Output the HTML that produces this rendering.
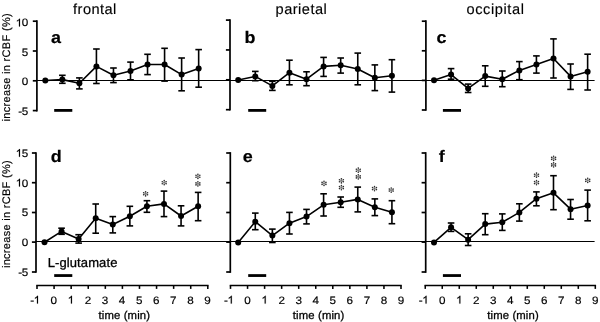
<!DOCTYPE html>
<html><head><meta charset="utf-8"><title>rCBF</title>
<style>
html,body{margin:0;padding:0;background:#fff;}
svg{display:block;font-family:"Liberation Sans", sans-serif;text-rendering:geometricPrecision;}
</style></head>
<body>
<svg width="600" height="322" viewBox="0 0 600 322">
<defs>
<filter id="soft" x="0" y="0" width="600" height="322" filterUnits="userSpaceOnUse"><feGaussianBlur stdDeviation="0.45"/></filter>
</defs>
<rect x="0" y="0" width="600" height="322" fill="#fff"/>
<g filter="url(#soft)">
<line x1="36.80" y1="80.45" x2="594.60" y2="80.45" stroke="#000" stroke-width="1.05" stroke-linecap="butt"/>
<line x1="36.00" y1="241.50" x2="594.60" y2="241.50" stroke="#000" stroke-width="1.05" stroke-linecap="butt"/>
<line x1="36.90" y1="20.35" x2="36.90" y2="111.45" stroke="#000" stroke-width="1.7" stroke-linecap="butt"/>
<line x1="32.80" y1="21.20" x2="36.90" y2="21.20" stroke="#000" stroke-width="1.7" stroke-linecap="butt"/>
<line x1="32.80" y1="51.00" x2="36.90" y2="51.00" stroke="#000" stroke-width="1.7" stroke-linecap="butt"/>
<line x1="32.80" y1="80.80" x2="36.90" y2="80.80" stroke="#000" stroke-width="1.7" stroke-linecap="butt"/>
<line x1="32.80" y1="110.60" x2="36.90" y2="110.60" stroke="#000" stroke-width="1.7" stroke-linecap="butt"/>
<line x1="36.00" y1="152.15" x2="36.00" y2="272.85" stroke="#000" stroke-width="1.7" stroke-linecap="butt"/>
<line x1="31.90" y1="153.00" x2="36.00" y2="153.00" stroke="#000" stroke-width="1.7" stroke-linecap="butt"/>
<line x1="31.90" y1="182.70" x2="36.00" y2="182.70" stroke="#000" stroke-width="1.7" stroke-linecap="butt"/>
<line x1="31.90" y1="212.50" x2="36.00" y2="212.50" stroke="#000" stroke-width="1.7" stroke-linecap="butt"/>
<line x1="31.90" y1="242.10" x2="36.00" y2="242.10" stroke="#000" stroke-width="1.7" stroke-linecap="butt"/>
<line x1="31.90" y1="272.00" x2="36.00" y2="272.00" stroke="#000" stroke-width="1.7" stroke-linecap="butt"/>
<line x1="230.00" y1="19.25" x2="230.00" y2="110.55" stroke="#000" stroke-width="1.7" stroke-linecap="butt"/>
<line x1="225.90" y1="20.10" x2="230.00" y2="20.10" stroke="#000" stroke-width="1.7" stroke-linecap="butt"/>
<line x1="225.90" y1="49.95" x2="230.00" y2="49.95" stroke="#000" stroke-width="1.7" stroke-linecap="butt"/>
<line x1="225.90" y1="79.80" x2="230.00" y2="79.80" stroke="#000" stroke-width="1.7" stroke-linecap="butt"/>
<line x1="225.90" y1="109.70" x2="230.00" y2="109.70" stroke="#000" stroke-width="1.7" stroke-linecap="butt"/>
<line x1="230.30" y1="152.15" x2="230.30" y2="272.85" stroke="#000" stroke-width="1.7" stroke-linecap="butt"/>
<line x1="226.20" y1="153.00" x2="230.30" y2="153.00" stroke="#000" stroke-width="1.7" stroke-linecap="butt"/>
<line x1="226.20" y1="182.70" x2="230.30" y2="182.70" stroke="#000" stroke-width="1.7" stroke-linecap="butt"/>
<line x1="226.20" y1="212.50" x2="230.30" y2="212.50" stroke="#000" stroke-width="1.7" stroke-linecap="butt"/>
<line x1="226.20" y1="242.10" x2="230.30" y2="242.10" stroke="#000" stroke-width="1.7" stroke-linecap="butt"/>
<line x1="226.20" y1="272.00" x2="230.30" y2="272.00" stroke="#000" stroke-width="1.7" stroke-linecap="butt"/>
<line x1="425.90" y1="20.35" x2="425.90" y2="110.85" stroke="#000" stroke-width="1.7" stroke-linecap="butt"/>
<line x1="421.80" y1="21.20" x2="425.90" y2="21.20" stroke="#000" stroke-width="1.7" stroke-linecap="butt"/>
<line x1="421.80" y1="50.80" x2="425.90" y2="50.80" stroke="#000" stroke-width="1.7" stroke-linecap="butt"/>
<line x1="421.80" y1="80.40" x2="425.90" y2="80.40" stroke="#000" stroke-width="1.7" stroke-linecap="butt"/>
<line x1="421.80" y1="110.00" x2="425.90" y2="110.00" stroke="#000" stroke-width="1.7" stroke-linecap="butt"/>
<line x1="425.70" y1="152.15" x2="425.70" y2="272.85" stroke="#000" stroke-width="1.7" stroke-linecap="butt"/>
<line x1="421.60" y1="153.00" x2="425.70" y2="153.00" stroke="#000" stroke-width="1.7" stroke-linecap="butt"/>
<line x1="421.60" y1="182.70" x2="425.70" y2="182.70" stroke="#000" stroke-width="1.7" stroke-linecap="butt"/>
<line x1="421.60" y1="212.50" x2="425.70" y2="212.50" stroke="#000" stroke-width="1.7" stroke-linecap="butt"/>
<line x1="421.60" y1="242.10" x2="425.70" y2="242.10" stroke="#000" stroke-width="1.7" stroke-linecap="butt"/>
<line x1="421.60" y1="272.00" x2="425.70" y2="272.00" stroke="#000" stroke-width="1.7" stroke-linecap="butt"/>
<path transform="translate(15.65 26.40) scale(0.005695 -0.005273)" d="M763 0H583V1147Q518 1085 412.5 1023T223 930V1104Q374 1175 487 1276T647 1472H763Z" fill="#000" stroke="#000" stroke-width="34.1"/>
<text transform="translate(24.90 26.40) scale(1.08 1)" x="0" y="0" text-anchor="middle" font-size="10.8" fill="#000" stroke="#000" stroke-width="0.18">0</text>
<text transform="translate(24.90 55.80) scale(1.08 1)" x="0" y="0" text-anchor="middle" font-size="10.8" fill="#000" stroke="#000" stroke-width="0.18">5</text>
<text transform="translate(24.90 85.40) scale(1.08 1)" x="0" y="0" text-anchor="middle" font-size="10.8" fill="#000" stroke="#000" stroke-width="0.18">0</text>
<text transform="translate(20.10 115.00) scale(1.08 1)" x="0" y="0" text-anchor="middle" font-size="10.8" fill="#000" stroke="#000" stroke-width="0.18">-</text>
<text transform="translate(24.90 115.00) scale(1.08 1)" x="0" y="0" text-anchor="middle" font-size="10.8" fill="#000" stroke="#000" stroke-width="0.18">5</text>
<path transform="translate(15.65 156.80) scale(0.005695 -0.005273)" d="M763 0H583V1147Q518 1085 412.5 1023T223 930V1104Q374 1175 487 1276T647 1472H763Z" fill="#000" stroke="#000" stroke-width="34.1"/>
<text transform="translate(24.90 156.80) scale(1.08 1)" x="0" y="0" text-anchor="middle" font-size="10.8" fill="#000" stroke="#000" stroke-width="0.18">5</text>
<path transform="translate(15.65 186.50) scale(0.005695 -0.005273)" d="M763 0H583V1147Q518 1085 412.5 1023T223 930V1104Q374 1175 487 1276T647 1472H763Z" fill="#000" stroke="#000" stroke-width="34.1"/>
<text transform="translate(24.90 186.50) scale(1.08 1)" x="0" y="0" text-anchor="middle" font-size="10.8" fill="#000" stroke="#000" stroke-width="0.18">0</text>
<text transform="translate(24.90 216.30) scale(1.08 1)" x="0" y="0" text-anchor="middle" font-size="10.8" fill="#000" stroke="#000" stroke-width="0.18">5</text>
<text transform="translate(24.90 245.90) scale(1.08 1)" x="0" y="0" text-anchor="middle" font-size="10.8" fill="#000" stroke="#000" stroke-width="0.18">0</text>
<text transform="translate(20.10 275.80) scale(1.08 1)" x="0" y="0" text-anchor="middle" font-size="10.8" fill="#000" stroke="#000" stroke-width="0.18">-</text>
<text transform="translate(24.90 275.80) scale(1.08 1)" x="0" y="0" text-anchor="middle" font-size="10.8" fill="#000" stroke="#000" stroke-width="0.18">5</text>
<line x1="36.23" y1="285.40" x2="208.57" y2="285.40" stroke="#000" stroke-width="1.55" stroke-linecap="butt"/>
<line x1="37.00" y1="285.40" x2="37.00" y2="288.90" stroke="#000" stroke-width="1.55" stroke-linecap="butt"/>
<text transform="translate(32.10 303.60) scale(1.08 1)" x="0" y="0" text-anchor="middle" font-size="10.8" fill="#000" stroke="#000" stroke-width="0.18">-</text>
<path transform="translate(33.66 303.60) scale(0.005695 -0.005273)" d="M763 0H583V1147Q518 1085 412.5 1023T223 930V1104Q374 1175 487 1276T647 1472H763Z" fill="#000" stroke="#000" stroke-width="34.1"/>
<line x1="54.08" y1="285.40" x2="54.08" y2="288.90" stroke="#000" stroke-width="1.55" stroke-linecap="butt"/>
<text transform="translate(53.78 303.60) scale(1.08 1)" x="0" y="0" text-anchor="middle" font-size="10.8" fill="#000" stroke="#000" stroke-width="0.18">0</text>
<line x1="71.16" y1="285.40" x2="71.16" y2="288.90" stroke="#000" stroke-width="1.55" stroke-linecap="butt"/>
<path transform="translate(67.62 303.60) scale(0.005695 -0.005273)" d="M763 0H583V1147Q518 1085 412.5 1023T223 930V1104Q374 1175 487 1276T647 1472H763Z" fill="#000" stroke="#000" stroke-width="34.1"/>
<line x1="88.24" y1="285.40" x2="88.24" y2="288.90" stroke="#000" stroke-width="1.55" stroke-linecap="butt"/>
<text transform="translate(87.94 303.60) scale(1.08 1)" x="0" y="0" text-anchor="middle" font-size="10.8" fill="#000" stroke="#000" stroke-width="0.18">2</text>
<line x1="105.32" y1="285.40" x2="105.32" y2="288.90" stroke="#000" stroke-width="1.55" stroke-linecap="butt"/>
<text transform="translate(105.02 303.60) scale(1.08 1)" x="0" y="0" text-anchor="middle" font-size="10.8" fill="#000" stroke="#000" stroke-width="0.18">3</text>
<line x1="122.40" y1="285.40" x2="122.40" y2="288.90" stroke="#000" stroke-width="1.55" stroke-linecap="butt"/>
<text transform="translate(122.10 303.60) scale(1.08 1)" x="0" y="0" text-anchor="middle" font-size="10.8" fill="#000" stroke="#000" stroke-width="0.18">4</text>
<line x1="139.48" y1="285.40" x2="139.48" y2="288.90" stroke="#000" stroke-width="1.55" stroke-linecap="butt"/>
<text transform="translate(139.18 303.60) scale(1.08 1)" x="0" y="0" text-anchor="middle" font-size="10.8" fill="#000" stroke="#000" stroke-width="0.18">5</text>
<line x1="156.56" y1="285.40" x2="156.56" y2="288.90" stroke="#000" stroke-width="1.55" stroke-linecap="butt"/>
<text transform="translate(156.26 303.60) scale(1.08 1)" x="0" y="0" text-anchor="middle" font-size="10.8" fill="#000" stroke="#000" stroke-width="0.18">6</text>
<line x1="173.64" y1="285.40" x2="173.64" y2="288.90" stroke="#000" stroke-width="1.55" stroke-linecap="butt"/>
<text transform="translate(173.34 303.60) scale(1.08 1)" x="0" y="0" text-anchor="middle" font-size="10.8" fill="#000" stroke="#000" stroke-width="0.18">7</text>
<line x1="190.72" y1="285.40" x2="190.72" y2="288.90" stroke="#000" stroke-width="1.55" stroke-linecap="butt"/>
<text transform="translate(190.42 303.60) scale(1.08 1)" x="0" y="0" text-anchor="middle" font-size="10.8" fill="#000" stroke="#000" stroke-width="0.18">8</text>
<line x1="207.80" y1="285.40" x2="207.80" y2="288.90" stroke="#000" stroke-width="1.55" stroke-linecap="butt"/>
<text transform="translate(207.50 303.60) scale(1.08 1)" x="0" y="0" text-anchor="middle" font-size="10.8" fill="#000" stroke="#000" stroke-width="0.18">9</text>
<text x="98.50" y="319.20" font-size="11.3" text-anchor="start" font-weight="normal" fill="#000" stroke="#000" stroke-width="0.3" textLength="51.5" lengthAdjust="spacing">time (min)</text>
<line x1="229.72" y1="285.40" x2="401.77" y2="285.40" stroke="#000" stroke-width="1.55" stroke-linecap="butt"/>
<line x1="230.50" y1="285.40" x2="230.50" y2="288.90" stroke="#000" stroke-width="1.55" stroke-linecap="butt"/>
<text transform="translate(225.90 303.60) scale(1.08 1)" x="0" y="0" text-anchor="middle" font-size="10.8" fill="#000" stroke="#000" stroke-width="0.18">-</text>
<path transform="translate(227.46 303.60) scale(0.005695 -0.005273)" d="M763 0H583V1147Q518 1085 412.5 1023T223 930V1104Q374 1175 487 1276T647 1472H763Z" fill="#000" stroke="#000" stroke-width="34.1"/>
<line x1="247.55" y1="285.40" x2="247.55" y2="288.90" stroke="#000" stroke-width="1.55" stroke-linecap="butt"/>
<text transform="translate(247.55 303.60) scale(1.08 1)" x="0" y="0" text-anchor="middle" font-size="10.8" fill="#000" stroke="#000" stroke-width="0.18">0</text>
<line x1="264.60" y1="285.40" x2="264.60" y2="288.90" stroke="#000" stroke-width="1.55" stroke-linecap="butt"/>
<path transform="translate(261.36 303.60) scale(0.005695 -0.005273)" d="M763 0H583V1147Q518 1085 412.5 1023T223 930V1104Q374 1175 487 1276T647 1472H763Z" fill="#000" stroke="#000" stroke-width="34.1"/>
<line x1="281.65" y1="285.40" x2="281.65" y2="288.90" stroke="#000" stroke-width="1.55" stroke-linecap="butt"/>
<text transform="translate(281.65 303.60) scale(1.08 1)" x="0" y="0" text-anchor="middle" font-size="10.8" fill="#000" stroke="#000" stroke-width="0.18">2</text>
<line x1="298.70" y1="285.40" x2="298.70" y2="288.90" stroke="#000" stroke-width="1.55" stroke-linecap="butt"/>
<text transform="translate(298.70 303.60) scale(1.08 1)" x="0" y="0" text-anchor="middle" font-size="10.8" fill="#000" stroke="#000" stroke-width="0.18">3</text>
<line x1="315.75" y1="285.40" x2="315.75" y2="288.90" stroke="#000" stroke-width="1.55" stroke-linecap="butt"/>
<text transform="translate(315.75 303.60) scale(1.08 1)" x="0" y="0" text-anchor="middle" font-size="10.8" fill="#000" stroke="#000" stroke-width="0.18">4</text>
<line x1="332.80" y1="285.40" x2="332.80" y2="288.90" stroke="#000" stroke-width="1.55" stroke-linecap="butt"/>
<text transform="translate(332.80 303.60) scale(1.08 1)" x="0" y="0" text-anchor="middle" font-size="10.8" fill="#000" stroke="#000" stroke-width="0.18">5</text>
<line x1="349.85" y1="285.40" x2="349.85" y2="288.90" stroke="#000" stroke-width="1.55" stroke-linecap="butt"/>
<text transform="translate(349.85 303.60) scale(1.08 1)" x="0" y="0" text-anchor="middle" font-size="10.8" fill="#000" stroke="#000" stroke-width="0.18">6</text>
<line x1="366.90" y1="285.40" x2="366.90" y2="288.90" stroke="#000" stroke-width="1.55" stroke-linecap="butt"/>
<text transform="translate(366.90 303.60) scale(1.08 1)" x="0" y="0" text-anchor="middle" font-size="10.8" fill="#000" stroke="#000" stroke-width="0.18">7</text>
<line x1="383.95" y1="285.40" x2="383.95" y2="288.90" stroke="#000" stroke-width="1.55" stroke-linecap="butt"/>
<text transform="translate(383.95 303.60) scale(1.08 1)" x="0" y="0" text-anchor="middle" font-size="10.8" fill="#000" stroke="#000" stroke-width="0.18">8</text>
<line x1="401.00" y1="285.40" x2="401.00" y2="288.90" stroke="#000" stroke-width="1.55" stroke-linecap="butt"/>
<text transform="translate(401.00 303.60) scale(1.08 1)" x="0" y="0" text-anchor="middle" font-size="10.8" fill="#000" stroke="#000" stroke-width="0.18">9</text>
<text x="292.80" y="319.20" font-size="11.3" text-anchor="start" font-weight="normal" fill="#000" stroke="#000" stroke-width="0.3" textLength="51.5" lengthAdjust="spacing">time (min)</text>
<line x1="424.48" y1="285.40" x2="596.07" y2="285.40" stroke="#000" stroke-width="1.55" stroke-linecap="butt"/>
<line x1="425.25" y1="285.40" x2="425.25" y2="288.90" stroke="#000" stroke-width="1.55" stroke-linecap="butt"/>
<text transform="translate(420.65 303.60) scale(1.08 1)" x="0" y="0" text-anchor="middle" font-size="10.8" fill="#000" stroke="#000" stroke-width="0.18">-</text>
<path transform="translate(422.21 303.60) scale(0.005695 -0.005273)" d="M763 0H583V1147Q518 1085 412.5 1023T223 930V1104Q374 1175 487 1276T647 1472H763Z" fill="#000" stroke="#000" stroke-width="34.1"/>
<line x1="442.25" y1="285.40" x2="442.25" y2="288.90" stroke="#000" stroke-width="1.55" stroke-linecap="butt"/>
<text transform="translate(442.25 303.60) scale(1.08 1)" x="0" y="0" text-anchor="middle" font-size="10.8" fill="#000" stroke="#000" stroke-width="0.18">0</text>
<line x1="459.26" y1="285.40" x2="459.26" y2="288.90" stroke="#000" stroke-width="1.55" stroke-linecap="butt"/>
<path transform="translate(456.02 303.60) scale(0.005695 -0.005273)" d="M763 0H583V1147Q518 1085 412.5 1023T223 930V1104Q374 1175 487 1276T647 1472H763Z" fill="#000" stroke="#000" stroke-width="34.1"/>
<line x1="476.26" y1="285.40" x2="476.26" y2="288.90" stroke="#000" stroke-width="1.55" stroke-linecap="butt"/>
<text transform="translate(476.26 303.60) scale(1.08 1)" x="0" y="0" text-anchor="middle" font-size="10.8" fill="#000" stroke="#000" stroke-width="0.18">2</text>
<line x1="493.27" y1="285.40" x2="493.27" y2="288.90" stroke="#000" stroke-width="1.55" stroke-linecap="butt"/>
<text transform="translate(493.27 303.60) scale(1.08 1)" x="0" y="0" text-anchor="middle" font-size="10.8" fill="#000" stroke="#000" stroke-width="0.18">3</text>
<line x1="510.27" y1="285.40" x2="510.27" y2="288.90" stroke="#000" stroke-width="1.55" stroke-linecap="butt"/>
<text transform="translate(510.27 303.60) scale(1.08 1)" x="0" y="0" text-anchor="middle" font-size="10.8" fill="#000" stroke="#000" stroke-width="0.18">4</text>
<line x1="527.28" y1="285.40" x2="527.28" y2="288.90" stroke="#000" stroke-width="1.55" stroke-linecap="butt"/>
<text transform="translate(527.28 303.60) scale(1.08 1)" x="0" y="0" text-anchor="middle" font-size="10.8" fill="#000" stroke="#000" stroke-width="0.18">5</text>
<line x1="544.28" y1="285.40" x2="544.28" y2="288.90" stroke="#000" stroke-width="1.55" stroke-linecap="butt"/>
<text transform="translate(544.28 303.60) scale(1.08 1)" x="0" y="0" text-anchor="middle" font-size="10.8" fill="#000" stroke="#000" stroke-width="0.18">6</text>
<line x1="561.29" y1="285.40" x2="561.29" y2="288.90" stroke="#000" stroke-width="1.55" stroke-linecap="butt"/>
<text transform="translate(561.29 303.60) scale(1.08 1)" x="0" y="0" text-anchor="middle" font-size="10.8" fill="#000" stroke="#000" stroke-width="0.18">7</text>
<line x1="578.29" y1="285.40" x2="578.29" y2="288.90" stroke="#000" stroke-width="1.55" stroke-linecap="butt"/>
<text transform="translate(578.29 303.60) scale(1.08 1)" x="0" y="0" text-anchor="middle" font-size="10.8" fill="#000" stroke="#000" stroke-width="0.18">8</text>
<line x1="595.30" y1="285.40" x2="595.30" y2="288.90" stroke="#000" stroke-width="1.55" stroke-linecap="butt"/>
<text transform="translate(595.30 303.60) scale(1.08 1)" x="0" y="0" text-anchor="middle" font-size="10.8" fill="#000" stroke="#000" stroke-width="0.18">9</text>
<text x="487.20" y="319.20" font-size="11.3" text-anchor="start" font-weight="normal" fill="#000" stroke="#000" stroke-width="0.3" textLength="51.5" lengthAdjust="spacing">time (min)</text>
<line x1="54.20" y1="110.40" x2="72.30" y2="110.40" stroke="#000" stroke-width="2.8" stroke-linecap="butt"/>
<line x1="54.20" y1="275.55" x2="72.30" y2="275.55" stroke="#000" stroke-width="2.8" stroke-linecap="butt"/>
<line x1="248.20" y1="110.40" x2="266.20" y2="110.40" stroke="#000" stroke-width="2.8" stroke-linecap="butt"/>
<line x1="248.20" y1="275.55" x2="266.20" y2="275.55" stroke="#000" stroke-width="2.8" stroke-linecap="butt"/>
<line x1="442.90" y1="110.40" x2="461.00" y2="110.40" stroke="#000" stroke-width="2.8" stroke-linecap="butt"/>
<line x1="442.90" y1="275.55" x2="461.00" y2="275.55" stroke="#000" stroke-width="2.8" stroke-linecap="butt"/>
<line x1="62.34" y1="75.30" x2="62.34" y2="83.30" stroke="#000" stroke-width="1.6" stroke-linecap="butt"/>
<line x1="59.04" y1="75.30" x2="65.64" y2="75.30" stroke="#000" stroke-width="1.6" stroke-linecap="butt"/>
<line x1="59.04" y1="83.30" x2="65.64" y2="83.30" stroke="#000" stroke-width="1.6" stroke-linecap="butt"/>
<line x1="79.38" y1="77.90" x2="79.38" y2="88.90" stroke="#000" stroke-width="1.6" stroke-linecap="butt"/>
<line x1="76.08" y1="77.90" x2="82.68" y2="77.90" stroke="#000" stroke-width="1.6" stroke-linecap="butt"/>
<line x1="76.08" y1="88.90" x2="82.68" y2="88.90" stroke="#000" stroke-width="1.6" stroke-linecap="butt"/>
<line x1="96.42" y1="49.00" x2="96.42" y2="83.50" stroke="#000" stroke-width="1.6" stroke-linecap="butt"/>
<line x1="93.12" y1="49.00" x2="99.72" y2="49.00" stroke="#000" stroke-width="1.6" stroke-linecap="butt"/>
<line x1="93.12" y1="83.50" x2="99.72" y2="83.50" stroke="#000" stroke-width="1.6" stroke-linecap="butt"/>
<line x1="113.46" y1="68.00" x2="113.46" y2="82.60" stroke="#000" stroke-width="1.6" stroke-linecap="butt"/>
<line x1="110.16" y1="68.00" x2="116.76" y2="68.00" stroke="#000" stroke-width="1.6" stroke-linecap="butt"/>
<line x1="110.16" y1="82.60" x2="116.76" y2="82.60" stroke="#000" stroke-width="1.6" stroke-linecap="butt"/>
<line x1="130.50" y1="62.10" x2="130.50" y2="79.80" stroke="#000" stroke-width="1.6" stroke-linecap="butt"/>
<line x1="127.20" y1="62.10" x2="133.80" y2="62.10" stroke="#000" stroke-width="1.6" stroke-linecap="butt"/>
<line x1="127.20" y1="79.80" x2="133.80" y2="79.80" stroke="#000" stroke-width="1.6" stroke-linecap="butt"/>
<line x1="147.54" y1="54.30" x2="147.54" y2="74.60" stroke="#000" stroke-width="1.6" stroke-linecap="butt"/>
<line x1="144.24" y1="54.30" x2="150.84" y2="54.30" stroke="#000" stroke-width="1.6" stroke-linecap="butt"/>
<line x1="144.24" y1="74.60" x2="150.84" y2="74.60" stroke="#000" stroke-width="1.6" stroke-linecap="butt"/>
<line x1="164.58" y1="48.30" x2="164.58" y2="81.10" stroke="#000" stroke-width="1.6" stroke-linecap="butt"/>
<line x1="161.28" y1="48.30" x2="167.88" y2="48.30" stroke="#000" stroke-width="1.6" stroke-linecap="butt"/>
<line x1="161.28" y1="81.10" x2="167.88" y2="81.10" stroke="#000" stroke-width="1.6" stroke-linecap="butt"/>
<line x1="181.62" y1="58.00" x2="181.62" y2="90.80" stroke="#000" stroke-width="1.6" stroke-linecap="butt"/>
<line x1="178.32" y1="58.00" x2="184.92" y2="58.00" stroke="#000" stroke-width="1.6" stroke-linecap="butt"/>
<line x1="178.32" y1="90.80" x2="184.92" y2="90.80" stroke="#000" stroke-width="1.6" stroke-linecap="butt"/>
<line x1="198.66" y1="49.60" x2="198.66" y2="87.20" stroke="#000" stroke-width="1.6" stroke-linecap="butt"/>
<line x1="195.36" y1="49.60" x2="201.96" y2="49.60" stroke="#000" stroke-width="1.6" stroke-linecap="butt"/>
<line x1="195.36" y1="87.20" x2="201.96" y2="87.20" stroke="#000" stroke-width="1.6" stroke-linecap="butt"/>
<polyline points="45.30,80.50 62.34,79.60 79.38,83.30 96.42,66.40 113.46,75.30 130.50,71.00 147.54,64.50 164.58,64.50 181.62,74.60 198.66,68.40" fill="none" stroke="#000" stroke-width="1.6" stroke-linejoin="round"/>
<circle cx="45.30" cy="80.50" r="3.0" fill="#000"/>
<circle cx="62.34" cy="79.60" r="3.0" fill="#000"/>
<circle cx="79.38" cy="83.30" r="3.0" fill="#000"/>
<circle cx="96.42" cy="66.40" r="3.0" fill="#000"/>
<circle cx="113.46" cy="75.30" r="3.0" fill="#000"/>
<circle cx="130.50" cy="71.00" r="3.0" fill="#000"/>
<circle cx="147.54" cy="64.50" r="3.0" fill="#000"/>
<circle cx="164.58" cy="64.50" r="3.0" fill="#000"/>
<circle cx="181.62" cy="74.60" r="3.0" fill="#000"/>
<circle cx="198.66" cy="68.40" r="3.0" fill="#000"/>
<line x1="255.28" y1="71.40" x2="255.28" y2="80.70" stroke="#000" stroke-width="1.6" stroke-linecap="butt"/>
<line x1="251.98" y1="71.40" x2="258.58" y2="71.40" stroke="#000" stroke-width="1.6" stroke-linecap="butt"/>
<line x1="251.98" y1="80.70" x2="258.58" y2="80.70" stroke="#000" stroke-width="1.6" stroke-linecap="butt"/>
<line x1="272.36" y1="81.30" x2="272.36" y2="90.40" stroke="#000" stroke-width="1.6" stroke-linecap="butt"/>
<line x1="269.06" y1="81.30" x2="275.66" y2="81.30" stroke="#000" stroke-width="1.6" stroke-linecap="butt"/>
<line x1="269.06" y1="90.40" x2="275.66" y2="90.40" stroke="#000" stroke-width="1.6" stroke-linecap="butt"/>
<line x1="289.44" y1="60.20" x2="289.44" y2="84.80" stroke="#000" stroke-width="1.6" stroke-linecap="butt"/>
<line x1="286.14" y1="60.20" x2="292.74" y2="60.20" stroke="#000" stroke-width="1.6" stroke-linecap="butt"/>
<line x1="286.14" y1="84.80" x2="292.74" y2="84.80" stroke="#000" stroke-width="1.6" stroke-linecap="butt"/>
<line x1="306.52" y1="71.80" x2="306.52" y2="85.70" stroke="#000" stroke-width="1.6" stroke-linecap="butt"/>
<line x1="303.22" y1="71.80" x2="309.82" y2="71.80" stroke="#000" stroke-width="1.6" stroke-linecap="butt"/>
<line x1="303.22" y1="85.70" x2="309.82" y2="85.70" stroke="#000" stroke-width="1.6" stroke-linecap="butt"/>
<line x1="323.60" y1="57.40" x2="323.60" y2="76.40" stroke="#000" stroke-width="1.6" stroke-linecap="butt"/>
<line x1="320.30" y1="57.40" x2="326.90" y2="57.40" stroke="#000" stroke-width="1.6" stroke-linecap="butt"/>
<line x1="320.30" y1="76.40" x2="326.90" y2="76.40" stroke="#000" stroke-width="1.6" stroke-linecap="butt"/>
<line x1="340.68" y1="58.00" x2="340.68" y2="73.10" stroke="#000" stroke-width="1.6" stroke-linecap="butt"/>
<line x1="337.38" y1="58.00" x2="343.98" y2="58.00" stroke="#000" stroke-width="1.6" stroke-linecap="butt"/>
<line x1="337.38" y1="73.10" x2="343.98" y2="73.10" stroke="#000" stroke-width="1.6" stroke-linecap="butt"/>
<line x1="357.76" y1="53.10" x2="357.76" y2="84.80" stroke="#000" stroke-width="1.6" stroke-linecap="butt"/>
<line x1="354.46" y1="53.10" x2="361.06" y2="53.10" stroke="#000" stroke-width="1.6" stroke-linecap="butt"/>
<line x1="354.46" y1="84.80" x2="361.06" y2="84.80" stroke="#000" stroke-width="1.6" stroke-linecap="butt"/>
<line x1="374.84" y1="64.90" x2="374.84" y2="90.60" stroke="#000" stroke-width="1.6" stroke-linecap="butt"/>
<line x1="371.54" y1="64.90" x2="378.14" y2="64.90" stroke="#000" stroke-width="1.6" stroke-linecap="butt"/>
<line x1="371.54" y1="90.60" x2="378.14" y2="90.60" stroke="#000" stroke-width="1.6" stroke-linecap="butt"/>
<line x1="391.92" y1="59.70" x2="391.92" y2="92.10" stroke="#000" stroke-width="1.6" stroke-linecap="butt"/>
<line x1="388.62" y1="59.70" x2="395.22" y2="59.70" stroke="#000" stroke-width="1.6" stroke-linecap="butt"/>
<line x1="388.62" y1="92.10" x2="395.22" y2="92.10" stroke="#000" stroke-width="1.6" stroke-linecap="butt"/>
<polyline points="238.20,80.00 255.28,76.40 272.36,85.90 289.44,72.70 306.52,79.20 323.60,66.40 340.68,65.30 357.76,69.00 374.84,77.70 391.92,75.70" fill="none" stroke="#000" stroke-width="1.6" stroke-linejoin="round"/>
<circle cx="238.20" cy="80.00" r="3.0" fill="#000"/>
<circle cx="255.28" cy="76.40" r="3.0" fill="#000"/>
<circle cx="272.36" cy="85.90" r="3.0" fill="#000"/>
<circle cx="289.44" cy="72.70" r="3.0" fill="#000"/>
<circle cx="306.52" cy="79.20" r="3.0" fill="#000"/>
<circle cx="323.60" cy="66.40" r="3.0" fill="#000"/>
<circle cx="340.68" cy="65.30" r="3.0" fill="#000"/>
<circle cx="357.76" cy="69.00" r="3.0" fill="#000"/>
<circle cx="374.84" cy="77.70" r="3.0" fill="#000"/>
<circle cx="391.92" cy="75.70" r="3.0" fill="#000"/>
<line x1="451.07" y1="68.60" x2="451.07" y2="79.20" stroke="#000" stroke-width="1.6" stroke-linecap="butt"/>
<line x1="447.77" y1="68.60" x2="454.37" y2="68.60" stroke="#000" stroke-width="1.6" stroke-linecap="butt"/>
<line x1="447.77" y1="79.20" x2="454.37" y2="79.20" stroke="#000" stroke-width="1.6" stroke-linecap="butt"/>
<line x1="468.14" y1="84.10" x2="468.14" y2="92.50" stroke="#000" stroke-width="1.6" stroke-linecap="butt"/>
<line x1="464.84" y1="84.10" x2="471.44" y2="84.10" stroke="#000" stroke-width="1.6" stroke-linecap="butt"/>
<line x1="464.84" y1="92.50" x2="471.44" y2="92.50" stroke="#000" stroke-width="1.6" stroke-linecap="butt"/>
<line x1="485.21" y1="65.80" x2="485.21" y2="86.30" stroke="#000" stroke-width="1.6" stroke-linecap="butt"/>
<line x1="481.91" y1="65.80" x2="488.51" y2="65.80" stroke="#000" stroke-width="1.6" stroke-linecap="butt"/>
<line x1="481.91" y1="86.30" x2="488.51" y2="86.30" stroke="#000" stroke-width="1.6" stroke-linecap="butt"/>
<line x1="502.28" y1="71.00" x2="502.28" y2="86.70" stroke="#000" stroke-width="1.6" stroke-linecap="butt"/>
<line x1="498.98" y1="71.00" x2="505.58" y2="71.00" stroke="#000" stroke-width="1.6" stroke-linecap="butt"/>
<line x1="498.98" y1="86.70" x2="505.58" y2="86.70" stroke="#000" stroke-width="1.6" stroke-linecap="butt"/>
<line x1="519.35" y1="61.60" x2="519.35" y2="79.70" stroke="#000" stroke-width="1.6" stroke-linecap="butt"/>
<line x1="516.05" y1="61.60" x2="522.65" y2="61.60" stroke="#000" stroke-width="1.6" stroke-linecap="butt"/>
<line x1="516.05" y1="79.70" x2="522.65" y2="79.70" stroke="#000" stroke-width="1.6" stroke-linecap="butt"/>
<line x1="536.42" y1="55.90" x2="536.42" y2="73.10" stroke="#000" stroke-width="1.6" stroke-linecap="butt"/>
<line x1="533.12" y1="55.90" x2="539.72" y2="55.90" stroke="#000" stroke-width="1.6" stroke-linecap="butt"/>
<line x1="533.12" y1="73.10" x2="539.72" y2="73.10" stroke="#000" stroke-width="1.6" stroke-linecap="butt"/>
<line x1="553.49" y1="38.90" x2="553.49" y2="78.00" stroke="#000" stroke-width="1.6" stroke-linecap="butt"/>
<line x1="550.19" y1="38.90" x2="556.79" y2="38.90" stroke="#000" stroke-width="1.6" stroke-linecap="butt"/>
<line x1="550.19" y1="78.00" x2="556.79" y2="78.00" stroke="#000" stroke-width="1.6" stroke-linecap="butt"/>
<line x1="570.56" y1="64.00" x2="570.56" y2="89.40" stroke="#000" stroke-width="1.6" stroke-linecap="butt"/>
<line x1="567.26" y1="64.00" x2="573.86" y2="64.00" stroke="#000" stroke-width="1.6" stroke-linecap="butt"/>
<line x1="567.26" y1="89.40" x2="573.86" y2="89.40" stroke="#000" stroke-width="1.6" stroke-linecap="butt"/>
<line x1="587.63" y1="54.20" x2="587.63" y2="90.00" stroke="#000" stroke-width="1.6" stroke-linecap="butt"/>
<line x1="584.33" y1="54.20" x2="590.93" y2="54.20" stroke="#000" stroke-width="1.6" stroke-linecap="butt"/>
<line x1="584.33" y1="90.00" x2="590.93" y2="90.00" stroke="#000" stroke-width="1.6" stroke-linecap="butt"/>
<polyline points="434.00,80.30 451.07,74.60 468.14,88.40 485.21,76.10 502.28,79.20 519.35,70.40 536.42,64.40 553.49,58.50 570.56,76.40 587.63,71.70" fill="none" stroke="#000" stroke-width="1.6" stroke-linejoin="round"/>
<circle cx="434.00" cy="80.30" r="3.0" fill="#000"/>
<circle cx="451.07" cy="74.60" r="3.0" fill="#000"/>
<circle cx="468.14" cy="88.40" r="3.0" fill="#000"/>
<circle cx="485.21" cy="76.10" r="3.0" fill="#000"/>
<circle cx="502.28" cy="79.20" r="3.0" fill="#000"/>
<circle cx="519.35" cy="70.40" r="3.0" fill="#000"/>
<circle cx="536.42" cy="64.40" r="3.0" fill="#000"/>
<circle cx="553.49" cy="58.50" r="3.0" fill="#000"/>
<circle cx="570.56" cy="76.40" r="3.0" fill="#000"/>
<circle cx="587.63" cy="71.70" r="3.0" fill="#000"/>
<line x1="61.57" y1="228.20" x2="61.57" y2="234.30" stroke="#000" stroke-width="1.6" stroke-linecap="butt"/>
<line x1="58.27" y1="228.20" x2="64.87" y2="228.20" stroke="#000" stroke-width="1.6" stroke-linecap="butt"/>
<line x1="58.27" y1="234.30" x2="64.87" y2="234.30" stroke="#000" stroke-width="1.6" stroke-linecap="butt"/>
<line x1="78.64" y1="234.70" x2="78.64" y2="243.10" stroke="#000" stroke-width="1.6" stroke-linecap="butt"/>
<line x1="75.34" y1="234.70" x2="81.94" y2="234.70" stroke="#000" stroke-width="1.6" stroke-linecap="butt"/>
<line x1="75.34" y1="243.10" x2="81.94" y2="243.10" stroke="#000" stroke-width="1.6" stroke-linecap="butt"/>
<line x1="95.71" y1="204.00" x2="95.71" y2="233.20" stroke="#000" stroke-width="1.6" stroke-linecap="butt"/>
<line x1="92.41" y1="204.00" x2="99.01" y2="204.00" stroke="#000" stroke-width="1.6" stroke-linecap="butt"/>
<line x1="92.41" y1="233.20" x2="99.01" y2="233.20" stroke="#000" stroke-width="1.6" stroke-linecap="butt"/>
<line x1="112.78" y1="216.60" x2="112.78" y2="232.90" stroke="#000" stroke-width="1.6" stroke-linecap="butt"/>
<line x1="109.48" y1="216.60" x2="116.08" y2="216.60" stroke="#000" stroke-width="1.6" stroke-linecap="butt"/>
<line x1="109.48" y1="232.90" x2="116.08" y2="232.90" stroke="#000" stroke-width="1.6" stroke-linecap="butt"/>
<line x1="129.85" y1="206.30" x2="129.85" y2="225.90" stroke="#000" stroke-width="1.6" stroke-linecap="butt"/>
<line x1="126.55" y1="206.30" x2="133.15" y2="206.30" stroke="#000" stroke-width="1.6" stroke-linecap="butt"/>
<line x1="126.55" y1="225.90" x2="133.15" y2="225.90" stroke="#000" stroke-width="1.6" stroke-linecap="butt"/>
<line x1="146.92" y1="200.70" x2="146.92" y2="212.30" stroke="#000" stroke-width="1.6" stroke-linecap="butt"/>
<line x1="143.62" y1="200.70" x2="150.22" y2="200.70" stroke="#000" stroke-width="1.6" stroke-linecap="butt"/>
<line x1="143.62" y1="212.30" x2="150.22" y2="212.30" stroke="#000" stroke-width="1.6" stroke-linecap="butt"/>
<line x1="163.99" y1="191.10" x2="163.99" y2="216.60" stroke="#000" stroke-width="1.6" stroke-linecap="butt"/>
<line x1="160.69" y1="191.10" x2="167.29" y2="191.10" stroke="#000" stroke-width="1.6" stroke-linecap="butt"/>
<line x1="160.69" y1="216.60" x2="167.29" y2="216.60" stroke="#000" stroke-width="1.6" stroke-linecap="butt"/>
<line x1="181.06" y1="205.80" x2="181.06" y2="225.90" stroke="#000" stroke-width="1.6" stroke-linecap="butt"/>
<line x1="177.76" y1="205.80" x2="184.36" y2="205.80" stroke="#000" stroke-width="1.6" stroke-linecap="butt"/>
<line x1="177.76" y1="225.90" x2="184.36" y2="225.90" stroke="#000" stroke-width="1.6" stroke-linecap="butt"/>
<line x1="198.13" y1="192.40" x2="198.13" y2="220.70" stroke="#000" stroke-width="1.6" stroke-linecap="butt"/>
<line x1="194.83" y1="192.40" x2="201.43" y2="192.40" stroke="#000" stroke-width="1.6" stroke-linecap="butt"/>
<line x1="194.83" y1="220.70" x2="201.43" y2="220.70" stroke="#000" stroke-width="1.6" stroke-linecap="butt"/>
<polyline points="44.50,242.20 61.57,231.40 78.64,239.00 95.71,218.30 112.78,224.50 129.85,216.20 146.92,206.30 163.99,203.90 181.06,216.00 198.13,206.30" fill="none" stroke="#000" stroke-width="1.6" stroke-linejoin="round"/>
<circle cx="44.50" cy="242.20" r="3.0" fill="#000"/>
<circle cx="61.57" cy="231.40" r="3.0" fill="#000"/>
<circle cx="78.64" cy="239.00" r="3.0" fill="#000"/>
<circle cx="95.71" cy="218.30" r="3.0" fill="#000"/>
<circle cx="112.78" cy="224.50" r="3.0" fill="#000"/>
<circle cx="129.85" cy="216.20" r="3.0" fill="#000"/>
<circle cx="146.92" cy="206.30" r="3.0" fill="#000"/>
<circle cx="163.99" cy="203.90" r="3.0" fill="#000"/>
<circle cx="181.06" cy="216.00" r="3.0" fill="#000"/>
<circle cx="198.13" cy="206.30" r="3.0" fill="#000"/>
<g transform="translate(145.60 193.80)"><g stroke="#6c6c6c" stroke-width="0.7" fill="none"><line x1="0" y1="-2.0" x2="0" y2="2.0"/><line x1="-1.9" y1="-1.0" x2="1.9" y2="1.0"/><line x1="-1.9" y1="1.0" x2="1.9" y2="-1.0"/></g><g fill="#2e2e2e"><circle cx="0" cy="-2.1" r="0.78"/><circle cx="0" cy="2.1" r="0.78"/><circle cx="-1.95" cy="-1.0" r="0.78"/><circle cx="1.95" cy="-1.0" r="0.78"/><circle cx="-1.95" cy="1.0" r="0.78"/><circle cx="1.95" cy="1.0" r="0.78"/></g></g>
<g transform="translate(164.20 182.70)"><g stroke="#6c6c6c" stroke-width="0.7" fill="none"><line x1="0" y1="-2.0" x2="0" y2="2.0"/><line x1="-1.9" y1="-1.0" x2="1.9" y2="1.0"/><line x1="-1.9" y1="1.0" x2="1.9" y2="-1.0"/></g><g fill="#2e2e2e"><circle cx="0" cy="-2.1" r="0.78"/><circle cx="0" cy="2.1" r="0.78"/><circle cx="-1.95" cy="-1.0" r="0.78"/><circle cx="1.95" cy="-1.0" r="0.78"/><circle cx="-1.95" cy="1.0" r="0.78"/><circle cx="1.95" cy="1.0" r="0.78"/></g></g>
<g transform="translate(197.90 176.30)"><g stroke="#6c6c6c" stroke-width="0.7" fill="none"><line x1="0" y1="-2.0" x2="0" y2="2.0"/><line x1="-1.9" y1="-1.0" x2="1.9" y2="1.0"/><line x1="-1.9" y1="1.0" x2="1.9" y2="-1.0"/></g><g fill="#2e2e2e"><circle cx="0" cy="-2.1" r="0.78"/><circle cx="0" cy="2.1" r="0.78"/><circle cx="-1.95" cy="-1.0" r="0.78"/><circle cx="1.95" cy="-1.0" r="0.78"/><circle cx="-1.95" cy="1.0" r="0.78"/><circle cx="1.95" cy="1.0" r="0.78"/></g></g>
<g transform="translate(197.90 183.90)"><g stroke="#6c6c6c" stroke-width="0.7" fill="none"><line x1="0" y1="-2.0" x2="0" y2="2.0"/><line x1="-1.9" y1="-1.0" x2="1.9" y2="1.0"/><line x1="-1.9" y1="1.0" x2="1.9" y2="-1.0"/></g><g fill="#2e2e2e"><circle cx="0" cy="-2.1" r="0.78"/><circle cx="0" cy="2.1" r="0.78"/><circle cx="-1.95" cy="-1.0" r="0.78"/><circle cx="1.95" cy="-1.0" r="0.78"/><circle cx="-1.95" cy="1.0" r="0.78"/><circle cx="1.95" cy="1.0" r="0.78"/></g></g>
<line x1="255.28" y1="213.10" x2="255.28" y2="229.70" stroke="#000" stroke-width="1.6" stroke-linecap="butt"/>
<line x1="251.98" y1="213.10" x2="258.58" y2="213.10" stroke="#000" stroke-width="1.6" stroke-linecap="butt"/>
<line x1="251.98" y1="229.70" x2="258.58" y2="229.70" stroke="#000" stroke-width="1.6" stroke-linecap="butt"/>
<line x1="272.36" y1="229.10" x2="272.36" y2="242.50" stroke="#000" stroke-width="1.6" stroke-linecap="butt"/>
<line x1="269.06" y1="229.10" x2="275.66" y2="229.10" stroke="#000" stroke-width="1.6" stroke-linecap="butt"/>
<line x1="269.06" y1="242.50" x2="275.66" y2="242.50" stroke="#000" stroke-width="1.6" stroke-linecap="butt"/>
<line x1="289.44" y1="212.40" x2="289.44" y2="234.00" stroke="#000" stroke-width="1.6" stroke-linecap="butt"/>
<line x1="286.14" y1="212.40" x2="292.74" y2="212.40" stroke="#000" stroke-width="1.6" stroke-linecap="butt"/>
<line x1="286.14" y1="234.00" x2="292.74" y2="234.00" stroke="#000" stroke-width="1.6" stroke-linecap="butt"/>
<line x1="306.52" y1="209.40" x2="306.52" y2="223.90" stroke="#000" stroke-width="1.6" stroke-linecap="butt"/>
<line x1="303.22" y1="209.40" x2="309.82" y2="209.40" stroke="#000" stroke-width="1.6" stroke-linecap="butt"/>
<line x1="303.22" y1="223.90" x2="309.82" y2="223.90" stroke="#000" stroke-width="1.6" stroke-linecap="butt"/>
<line x1="323.60" y1="193.80" x2="323.60" y2="216.00" stroke="#000" stroke-width="1.6" stroke-linecap="butt"/>
<line x1="320.30" y1="193.80" x2="326.90" y2="193.80" stroke="#000" stroke-width="1.6" stroke-linecap="butt"/>
<line x1="320.30" y1="216.00" x2="326.90" y2="216.00" stroke="#000" stroke-width="1.6" stroke-linecap="butt"/>
<line x1="340.68" y1="197.00" x2="340.68" y2="207.30" stroke="#000" stroke-width="1.6" stroke-linecap="butt"/>
<line x1="337.38" y1="197.00" x2="343.98" y2="197.00" stroke="#000" stroke-width="1.6" stroke-linecap="butt"/>
<line x1="337.38" y1="207.30" x2="343.98" y2="207.30" stroke="#000" stroke-width="1.6" stroke-linecap="butt"/>
<line x1="357.76" y1="187.10" x2="357.76" y2="211.90" stroke="#000" stroke-width="1.6" stroke-linecap="butt"/>
<line x1="354.46" y1="187.10" x2="361.06" y2="187.10" stroke="#000" stroke-width="1.6" stroke-linecap="butt"/>
<line x1="354.46" y1="211.90" x2="361.06" y2="211.90" stroke="#000" stroke-width="1.6" stroke-linecap="butt"/>
<line x1="374.84" y1="198.90" x2="374.84" y2="215.60" stroke="#000" stroke-width="1.6" stroke-linecap="butt"/>
<line x1="371.54" y1="198.90" x2="378.14" y2="198.90" stroke="#000" stroke-width="1.6" stroke-linecap="butt"/>
<line x1="371.54" y1="215.60" x2="378.14" y2="215.60" stroke="#000" stroke-width="1.6" stroke-linecap="butt"/>
<line x1="391.92" y1="200.70" x2="391.92" y2="223.70" stroke="#000" stroke-width="1.6" stroke-linecap="butt"/>
<line x1="388.62" y1="200.70" x2="395.22" y2="200.70" stroke="#000" stroke-width="1.6" stroke-linecap="butt"/>
<line x1="388.62" y1="223.70" x2="395.22" y2="223.70" stroke="#000" stroke-width="1.6" stroke-linecap="butt"/>
<polyline points="238.20,242.40 255.28,221.70 272.36,235.60 289.44,223.20 306.52,216.60 323.60,204.80 340.68,202.20 357.76,199.40 374.84,207.30 391.92,212.30" fill="none" stroke="#000" stroke-width="1.6" stroke-linejoin="round"/>
<circle cx="238.20" cy="242.40" r="3.0" fill="#000"/>
<circle cx="255.28" cy="221.70" r="3.0" fill="#000"/>
<circle cx="272.36" cy="235.60" r="3.0" fill="#000"/>
<circle cx="289.44" cy="223.20" r="3.0" fill="#000"/>
<circle cx="306.52" cy="216.60" r="3.0" fill="#000"/>
<circle cx="323.60" cy="204.80" r="3.0" fill="#000"/>
<circle cx="340.68" cy="202.20" r="3.0" fill="#000"/>
<circle cx="357.76" cy="199.40" r="3.0" fill="#000"/>
<circle cx="374.84" cy="207.30" r="3.0" fill="#000"/>
<circle cx="391.92" cy="212.30" r="3.0" fill="#000"/>
<g transform="translate(324.00 183.40)"><g stroke="#6c6c6c" stroke-width="0.7" fill="none"><line x1="0" y1="-2.0" x2="0" y2="2.0"/><line x1="-1.9" y1="-1.0" x2="1.9" y2="1.0"/><line x1="-1.9" y1="1.0" x2="1.9" y2="-1.0"/></g><g fill="#2e2e2e"><circle cx="0" cy="-2.1" r="0.78"/><circle cx="0" cy="2.1" r="0.78"/><circle cx="-1.95" cy="-1.0" r="0.78"/><circle cx="1.95" cy="-1.0" r="0.78"/><circle cx="-1.95" cy="1.0" r="0.78"/><circle cx="1.95" cy="1.0" r="0.78"/></g></g>
<g transform="translate(341.40 180.80)"><g stroke="#6c6c6c" stroke-width="0.7" fill="none"><line x1="0" y1="-2.0" x2="0" y2="2.0"/><line x1="-1.9" y1="-1.0" x2="1.9" y2="1.0"/><line x1="-1.9" y1="1.0" x2="1.9" y2="-1.0"/></g><g fill="#2e2e2e"><circle cx="0" cy="-2.1" r="0.78"/><circle cx="0" cy="2.1" r="0.78"/><circle cx="-1.95" cy="-1.0" r="0.78"/><circle cx="1.95" cy="-1.0" r="0.78"/><circle cx="-1.95" cy="1.0" r="0.78"/><circle cx="1.95" cy="1.0" r="0.78"/></g></g>
<g transform="translate(341.40 187.60)"><g stroke="#6c6c6c" stroke-width="0.7" fill="none"><line x1="0" y1="-2.0" x2="0" y2="2.0"/><line x1="-1.9" y1="-1.0" x2="1.9" y2="1.0"/><line x1="-1.9" y1="1.0" x2="1.9" y2="-1.0"/></g><g fill="#2e2e2e"><circle cx="0" cy="-2.1" r="0.78"/><circle cx="0" cy="2.1" r="0.78"/><circle cx="-1.95" cy="-1.0" r="0.78"/><circle cx="1.95" cy="-1.0" r="0.78"/><circle cx="-1.95" cy="1.0" r="0.78"/><circle cx="1.95" cy="1.0" r="0.78"/></g></g>
<g transform="translate(358.30 176.90)"><g stroke="#6c6c6c" stroke-width="0.7" fill="none"><line x1="0" y1="-2.0" x2="0" y2="2.0"/><line x1="-1.9" y1="-1.0" x2="1.9" y2="1.0"/><line x1="-1.9" y1="1.0" x2="1.9" y2="-1.0"/></g><g fill="#2e2e2e"><circle cx="0" cy="-2.1" r="0.78"/><circle cx="0" cy="2.1" r="0.78"/><circle cx="-1.95" cy="-1.0" r="0.78"/><circle cx="1.95" cy="-1.0" r="0.78"/><circle cx="-1.95" cy="1.0" r="0.78"/><circle cx="1.95" cy="1.0" r="0.78"/></g></g>
<g transform="translate(358.30 170.20)"><g stroke="#6c6c6c" stroke-width="0.7" fill="none"><line x1="0" y1="-2.0" x2="0" y2="2.0"/><line x1="-1.9" y1="-1.0" x2="1.9" y2="1.0"/><line x1="-1.9" y1="1.0" x2="1.9" y2="-1.0"/></g><g fill="#2e2e2e"><circle cx="0" cy="-2.1" r="0.78"/><circle cx="0" cy="2.1" r="0.78"/><circle cx="-1.95" cy="-1.0" r="0.78"/><circle cx="1.95" cy="-1.0" r="0.78"/><circle cx="-1.95" cy="1.0" r="0.78"/><circle cx="1.95" cy="1.0" r="0.78"/></g></g>
<g transform="translate(374.50 188.60)"><g stroke="#6c6c6c" stroke-width="0.7" fill="none"><line x1="0" y1="-2.0" x2="0" y2="2.0"/><line x1="-1.9" y1="-1.0" x2="1.9" y2="1.0"/><line x1="-1.9" y1="1.0" x2="1.9" y2="-1.0"/></g><g fill="#2e2e2e"><circle cx="0" cy="-2.1" r="0.78"/><circle cx="0" cy="2.1" r="0.78"/><circle cx="-1.95" cy="-1.0" r="0.78"/><circle cx="1.95" cy="-1.0" r="0.78"/><circle cx="-1.95" cy="1.0" r="0.78"/><circle cx="1.95" cy="1.0" r="0.78"/></g></g>
<g transform="translate(391.20 190.10)"><g stroke="#6c6c6c" stroke-width="0.7" fill="none"><line x1="0" y1="-2.0" x2="0" y2="2.0"/><line x1="-1.9" y1="-1.0" x2="1.9" y2="1.0"/><line x1="-1.9" y1="1.0" x2="1.9" y2="-1.0"/></g><g fill="#2e2e2e"><circle cx="0" cy="-2.1" r="0.78"/><circle cx="0" cy="2.1" r="0.78"/><circle cx="-1.95" cy="-1.0" r="0.78"/><circle cx="1.95" cy="-1.0" r="0.78"/><circle cx="-1.95" cy="1.0" r="0.78"/><circle cx="1.95" cy="1.0" r="0.78"/></g></g>
<line x1="451.07" y1="223.00" x2="451.07" y2="231.40" stroke="#000" stroke-width="1.6" stroke-linecap="butt"/>
<line x1="447.77" y1="223.00" x2="454.37" y2="223.00" stroke="#000" stroke-width="1.6" stroke-linecap="butt"/>
<line x1="447.77" y1="231.40" x2="454.37" y2="231.40" stroke="#000" stroke-width="1.6" stroke-linecap="butt"/>
<line x1="468.14" y1="233.80" x2="468.14" y2="245.50" stroke="#000" stroke-width="1.6" stroke-linecap="butt"/>
<line x1="464.84" y1="233.80" x2="471.44" y2="233.80" stroke="#000" stroke-width="1.6" stroke-linecap="butt"/>
<line x1="464.84" y1="245.50" x2="471.44" y2="245.50" stroke="#000" stroke-width="1.6" stroke-linecap="butt"/>
<line x1="485.21" y1="213.70" x2="485.21" y2="234.70" stroke="#000" stroke-width="1.6" stroke-linecap="butt"/>
<line x1="481.91" y1="213.70" x2="488.51" y2="213.70" stroke="#000" stroke-width="1.6" stroke-linecap="butt"/>
<line x1="481.91" y1="234.70" x2="488.51" y2="234.70" stroke="#000" stroke-width="1.6" stroke-linecap="butt"/>
<line x1="502.28" y1="213.90" x2="502.28" y2="230.40" stroke="#000" stroke-width="1.6" stroke-linecap="butt"/>
<line x1="498.98" y1="213.90" x2="505.58" y2="213.90" stroke="#000" stroke-width="1.6" stroke-linecap="butt"/>
<line x1="498.98" y1="230.40" x2="505.58" y2="230.40" stroke="#000" stroke-width="1.6" stroke-linecap="butt"/>
<line x1="519.35" y1="203.80" x2="519.35" y2="221.10" stroke="#000" stroke-width="1.6" stroke-linecap="butt"/>
<line x1="516.05" y1="203.80" x2="522.65" y2="203.80" stroke="#000" stroke-width="1.6" stroke-linecap="butt"/>
<line x1="516.05" y1="221.10" x2="522.65" y2="221.10" stroke="#000" stroke-width="1.6" stroke-linecap="butt"/>
<line x1="536.42" y1="191.90" x2="536.42" y2="205.80" stroke="#000" stroke-width="1.6" stroke-linecap="butt"/>
<line x1="533.12" y1="191.90" x2="539.72" y2="191.90" stroke="#000" stroke-width="1.6" stroke-linecap="butt"/>
<line x1="533.12" y1="205.80" x2="539.72" y2="205.80" stroke="#000" stroke-width="1.6" stroke-linecap="butt"/>
<line x1="553.49" y1="175.70" x2="553.49" y2="209.70" stroke="#000" stroke-width="1.6" stroke-linecap="butt"/>
<line x1="550.19" y1="175.70" x2="556.79" y2="175.70" stroke="#000" stroke-width="1.6" stroke-linecap="butt"/>
<line x1="550.19" y1="209.70" x2="556.79" y2="209.70" stroke="#000" stroke-width="1.6" stroke-linecap="butt"/>
<line x1="570.56" y1="199.50" x2="570.56" y2="219.20" stroke="#000" stroke-width="1.6" stroke-linecap="butt"/>
<line x1="567.26" y1="199.50" x2="573.86" y2="199.50" stroke="#000" stroke-width="1.6" stroke-linecap="butt"/>
<line x1="567.26" y1="219.20" x2="573.86" y2="219.20" stroke="#000" stroke-width="1.6" stroke-linecap="butt"/>
<line x1="587.63" y1="190.10" x2="587.63" y2="220.80" stroke="#000" stroke-width="1.6" stroke-linecap="butt"/>
<line x1="584.33" y1="190.10" x2="590.93" y2="190.10" stroke="#000" stroke-width="1.6" stroke-linecap="butt"/>
<line x1="584.33" y1="220.80" x2="590.93" y2="220.80" stroke="#000" stroke-width="1.6" stroke-linecap="butt"/>
<polyline points="434.00,242.40 451.07,227.30 468.14,239.70 485.21,224.10 502.28,222.30 519.35,212.40 536.42,198.70 553.49,192.80 570.56,209.20 587.63,205.50" fill="none" stroke="#000" stroke-width="1.6" stroke-linejoin="round"/>
<circle cx="434.00" cy="242.40" r="3.0" fill="#000"/>
<circle cx="451.07" cy="227.30" r="3.0" fill="#000"/>
<circle cx="468.14" cy="239.70" r="3.0" fill="#000"/>
<circle cx="485.21" cy="224.10" r="3.0" fill="#000"/>
<circle cx="502.28" cy="222.30" r="3.0" fill="#000"/>
<circle cx="519.35" cy="212.40" r="3.0" fill="#000"/>
<circle cx="536.42" cy="198.70" r="3.0" fill="#000"/>
<circle cx="553.49" cy="192.80" r="3.0" fill="#000"/>
<circle cx="570.56" cy="209.20" r="3.0" fill="#000"/>
<circle cx="587.63" cy="205.50" r="3.0" fill="#000"/>
<g transform="translate(536.50 175.20)"><g stroke="#6c6c6c" stroke-width="0.7" fill="none"><line x1="0" y1="-2.0" x2="0" y2="2.0"/><line x1="-1.9" y1="-1.0" x2="1.9" y2="1.0"/><line x1="-1.9" y1="1.0" x2="1.9" y2="-1.0"/></g><g fill="#2e2e2e"><circle cx="0" cy="-2.1" r="0.78"/><circle cx="0" cy="2.1" r="0.78"/><circle cx="-1.95" cy="-1.0" r="0.78"/><circle cx="1.95" cy="-1.0" r="0.78"/><circle cx="-1.95" cy="1.0" r="0.78"/><circle cx="1.95" cy="1.0" r="0.78"/></g></g>
<g transform="translate(536.50 182.60)"><g stroke="#6c6c6c" stroke-width="0.7" fill="none"><line x1="0" y1="-2.0" x2="0" y2="2.0"/><line x1="-1.9" y1="-1.0" x2="1.9" y2="1.0"/><line x1="-1.9" y1="1.0" x2="1.9" y2="-1.0"/></g><g fill="#2e2e2e"><circle cx="0" cy="-2.1" r="0.78"/><circle cx="0" cy="2.1" r="0.78"/><circle cx="-1.95" cy="-1.0" r="0.78"/><circle cx="1.95" cy="-1.0" r="0.78"/><circle cx="-1.95" cy="1.0" r="0.78"/><circle cx="1.95" cy="1.0" r="0.78"/></g></g>
<g transform="translate(553.60 158.40)"><g stroke="#6c6c6c" stroke-width="0.7" fill="none"><line x1="0" y1="-2.0" x2="0" y2="2.0"/><line x1="-1.9" y1="-1.0" x2="1.9" y2="1.0"/><line x1="-1.9" y1="1.0" x2="1.9" y2="-1.0"/></g><g fill="#2e2e2e"><circle cx="0" cy="-2.1" r="0.78"/><circle cx="0" cy="2.1" r="0.78"/><circle cx="-1.95" cy="-1.0" r="0.78"/><circle cx="1.95" cy="-1.0" r="0.78"/><circle cx="-1.95" cy="1.0" r="0.78"/><circle cx="1.95" cy="1.0" r="0.78"/></g></g>
<g transform="translate(553.60 164.90)"><g stroke="#6c6c6c" stroke-width="0.7" fill="none"><line x1="0" y1="-2.0" x2="0" y2="2.0"/><line x1="-1.9" y1="-1.0" x2="1.9" y2="1.0"/><line x1="-1.9" y1="1.0" x2="1.9" y2="-1.0"/></g><g fill="#2e2e2e"><circle cx="0" cy="-2.1" r="0.78"/><circle cx="0" cy="2.1" r="0.78"/><circle cx="-1.95" cy="-1.0" r="0.78"/><circle cx="1.95" cy="-1.0" r="0.78"/><circle cx="-1.95" cy="1.0" r="0.78"/><circle cx="1.95" cy="1.0" r="0.78"/></g></g>
<g transform="translate(587.70 180.40)"><g stroke="#6c6c6c" stroke-width="0.7" fill="none"><line x1="0" y1="-2.0" x2="0" y2="2.0"/><line x1="-1.9" y1="-1.0" x2="1.9" y2="1.0"/><line x1="-1.9" y1="1.0" x2="1.9" y2="-1.0"/></g><g fill="#2e2e2e"><circle cx="0" cy="-2.1" r="0.78"/><circle cx="0" cy="2.1" r="0.78"/><circle cx="-1.95" cy="-1.0" r="0.78"/><circle cx="1.95" cy="-1.0" r="0.78"/><circle cx="-1.95" cy="1.0" r="0.78"/><circle cx="1.95" cy="1.0" r="0.78"/></g></g>
<text x="73.05" y="13.50" font-size="14.6" text-anchor="start" font-weight="normal" fill="#000" stroke="#000" stroke-width="0.15" textLength="43.3" lengthAdjust="spacing">frontal</text>
<text x="275.60" y="13.50" font-size="14.6" text-anchor="start" font-weight="normal" fill="#000" stroke="#000" stroke-width="0.15" textLength="51.2" lengthAdjust="spacing">parietal</text>
<text x="466.40" y="13.50" font-size="14.6" text-anchor="start" font-weight="normal" fill="#000" stroke="#000" stroke-width="0.15" textLength="57.6" lengthAdjust="spacing">occipital</text>
<text transform="translate(51.00 42.50) scale(1.08 1)" x="0" y="0" font-size="16.6" font-weight="bold" fill="#000" stroke="#000" stroke-width="0.2">a</text>
<text transform="translate(244.40 42.60) scale(1.08 1)" x="0" y="0" font-size="16.6" font-weight="bold" fill="#000" stroke="#000" stroke-width="0.2">b</text>
<text transform="translate(436.50 42.50) scale(1.08 1)" x="0" y="0" font-size="16.6" font-weight="bold" fill="#000" stroke="#000" stroke-width="0.2">c</text>
<text transform="translate(50.80 162.00) scale(1.08 1)" x="0" y="0" font-size="16.6" font-weight="bold" fill="#000" stroke="#000" stroke-width="0.2">d</text>
<text transform="translate(242.70 162.00) scale(1.08 1)" x="0" y="0" font-size="16.6" font-weight="bold" fill="#000" stroke="#000" stroke-width="0.2">e</text>
<text transform="translate(438.80 162.00) scale(1.08 1)" x="0" y="0" font-size="16.6" font-weight="bold" fill="#000" stroke="#000" stroke-width="0.2">f</text>
<text x="47.70" y="267.00" font-size="13" text-anchor="start" font-weight="normal" fill="#000" stroke="#000" stroke-width="0.3" textLength="69.7" lengthAdjust="spacing">L-glutamate</text>
<text x="9.90" y="121.50" font-size="11.0" text-anchor="start" font-weight="normal" fill="#000" stroke="#000" stroke-width="0.18" textLength="108.2" lengthAdjust="spacing" transform="rotate(-90 9.90 121.50)">increase in rCBF (%)</text>
<text x="9.90" y="268.10" font-size="11.0" text-anchor="start" font-weight="normal" fill="#000" stroke="#000" stroke-width="0.18" textLength="107.8" lengthAdjust="spacing" transform="rotate(-90 9.90 268.10)">increase in rCBF (%)</text>
</g>
</svg>
</body></html>
